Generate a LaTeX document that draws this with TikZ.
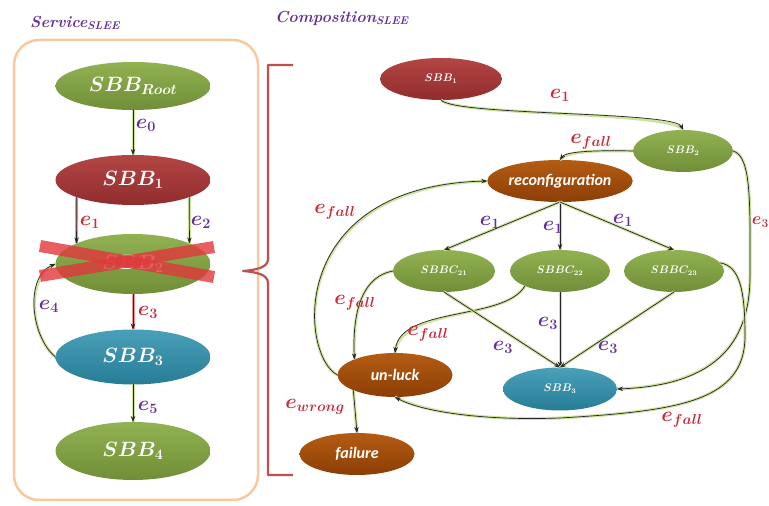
\documentclass[tikz,border=0pt]{standalone}
\usepackage{fontspec}
\newfontfamily\carl{Carlito}
\usetikzlibrary{shapes.geometric,arrows.meta}
\definecolor{gG}{RGB}{112,142,55}
\definecolor{gGl}{RGB}{145,178,82}
\definecolor{rR}{RGB}{145,45,45}
\definecolor{rRl}{RGB}{178,70,68}
\definecolor{bB}{RGB}{40,125,150}
\definecolor{bBl}{RGB}{75,160,185}
\definecolor{oO}{RGB}{140,62,5}
\definecolor{oOl}{RGB}{180,92,20}
\definecolor{boxO}{RGB}{248,200,160}
\definecolor{brk}{RGB}{192,80,80}
\definecolor{glowG}{RGB}{205,225,160}
\definecolor{glowR}{RGB}{235,150,150}
\definecolor{labP}{RGB}{100,50,150}
\definecolor{labR}{RGB}{200,45,60}
\definecolor{xRed}{RGB}{225,55,60}
\tikzset{
  ell/.style={ellipse, draw=none, inner sep=0pt, outer sep=0pt, text=white},
  bigE/.style={ell, minimum width=155pt, font=\boldmath\fontsize{22}{24}\selectfont},
  smE/.style={ell, minimum height=42pt, font=\boldmath\fontsize{10.5}{12}\selectfont},
  txtE/.style={ell, minimum width=115pt, font=\carl\bfseries\itshape\fontsize{16}{18}\selectfont},
  fillG/.style={top color=gGl, bottom color=gG},
  fillR/.style={top color=rRl, bottom color=rR},
  fillB/.style={top color=bBl, bottom color=bB},
  fillO/.style={top color=oOl, bottom color=oO},
  edge/.style={draw=black!85, line width=0.7pt, preaction={draw=glowG, line width=3pt, -}, -{Stealth[length=6pt,width=4.5pt]}},
  edgeR/.style={draw=black!85, line width=0.7pt, preaction={draw=glowR, line width=3pt, -}, -{Stealth[length=6pt,width=4.5pt]}},
  elab/.style={inner sep=1pt, font=\boldmath\fontsize{20}{22}\selectfont},
  elP/.style={elab, text=labP},
  elR/.style={elab, text=labR},
  ttl/.style={anchor=west, inner sep=0pt, text=labP, font=\bfseries\itshape\fontsize{16}{18}\selectfont}
}
\begin{document}
\begin{tikzpicture}[x=1pt,y=1pt]
\useasboundingbox (0,0) rectangle (769,506);
% titles
\node[ttl] (svc) at (30,483) {Service\textsubscript{SLEE}};
\node[ttl] (cmp) at (275,488) {Composition\textsubscript{SLEE}};
% left box
\draw[boxO, line width=2.5pt, rounded corners=25pt] (14,6) rectangle (258,466);
% bracket
\draw[brk, line width=2.2pt, line join=round] (293,441) -- (268,441) -- (268,247)
  .. controls (268,238) and (255,236) .. (243,235)
  .. controls (255,234) and (268,232) .. (268,223) -- (268,31) -- (293,31);
% left nodes
\node[bigE, minimum height=48pt, fillG] (root) at (133,420) {$SBB_{Root}$};
\node[bigE, minimum height=50pt, fillR] (s1) at (133,326) {$SBB_1$};
\node[bigE, minimum height=60pt, fillG] (s2) at (133,242) {$SBB_2$};
\node[bigE, minimum height=55pt, fillB] (s3) at (133,149) {$SBB_3$};
\node[bigE, minimum height=58pt, fillG] (s4) at (133,55) {$SBB_4$};
% left edges
\draw[edge] (root) -- (s1);
\draw[edgeR] (s1.197) -- (s2.160);
\draw[edge] (s1.343) -- (s2.20);
\draw[edgeR] (s2) -- (s3);
\draw[edge] (s3.west) .. controls (30,170) and (25,230) .. (s2.west);
\draw[edge] (s3) -- (s4);
% left labels
\node[elP] (l0) at (146,381) {$e_0$};
\node[elR] (l1) at (90,284) {$e_1$};
\node[elP] (l2) at (201,284) {$e_2$};
\node[elR] (l3) at (148,194) {$e_3$};
\node[elP] (l4) at (49,200) {$e_4$};
\node[elP] (l5) at (148,99) {$e_5$};
% red cross
\draw[xRed, opacity=0.8, line width=12pt] (40,260) -- (214,229);
\draw[xRed, opacity=0.8, line width=12pt] (40,230) -- (214,259);
% right nodes
\node[smE, minimum width=122pt, fillR] (r1) at (441,427) {$SBB_1$};
\node[smE, minimum width=100pt, fillG] (r2) at (683,355) {$SBB_2$};
\node[txtE, minimum width=145pt, minimum height=42pt, fillO] (rec) at (560,325) {reconfiguration};
\node[smE, minimum width=102pt, fillG] (c21) at (444,235) {$SBBC_{21}$};
\node[smE, minimum width=100pt, fillG] (c22) at (560,235) {$SBBC_{22}$};
\node[smE, minimum width=100pt, fillG] (c23) at (674,235) {$SBBC_{23}$};
\node[smE, minimum width=114pt, minimum height=43pt, fillB] (r3) at (560,117) {$SBB_3$};
\node[txtE, minimum height=44pt, fillO] (unl) at (395,131) {un-luck};
\node[txtE, minimum height=42pt, fillO] (fail) at (357,52) {failure};
% right edges
\draw[edge] (r1.south) .. controls (455,390) and (675,395) .. (r2.north);
\draw[edge] (r2.west) .. controls (590,356) and (565,354) .. (rec.north);
\draw[edge] (rec.south) -- (c21.north);
\draw[edge] (rec.south) -- (c22.north);
\draw[edge] (rec.south) -- (c23.north);
\draw[edge] (unl.west) .. controls (300,150) and (285,320) .. (rec.west);
\draw[edge] (c21.west) .. controls (365,230) and (352,200) .. (unl.159);
\draw[edge] (c22.203) .. controls (505,185) and (400,200) .. (unl.north);
\draw[edge] (c21.south) -- (r3.north);
\draw[edge] (c22.south) -- (r3.north);
\draw[edge] (c23.south) -- (r3.north);
\draw[edge] (r2.east) .. controls (752,350) and (750,300) .. (750,230)
  .. controls (750,150) and (700,120) .. (r3.east);
\draw[edge] (c23.10) .. controls (740,240) and (745,215) .. (745,170)
  .. controls (745,105) and (680,95) .. (560,88)
  .. controls (480,85) and (420,95) .. (unl.south);
\draw[edge] (unl.200) -- (fail.north);
% right labels
\node[elR] (lr1) at (560,411) {$e_1$};
\node[elR] (lf1) at (591,364) {$e_{fall}$};
\node[elP] (lc1) at (490,284) {$e_1$};
\node[elP] (lc2) at (553,279) {$e_1$};
\node[elP] (lc3) at (623,286) {$e_1$};
\node[elR] (lf2) at (335,294) {$e_{fall}$};
\node[elR] (lf3) at (355,203) {$e_{fall}$};
\node[elR] (lf4) at (428,172) {$e_{fall}$};
\node[elP] (le1) at (503,159) {$e_3$};
\node[elP] (le2) at (548,183) {$e_3$};
\node[elP] (le3) at (608,159) {$e_3$};
\node[elR, anchor=east, inner sep=0pt, font=\boldmath\fontsize{17}{19}\selectfont] (lr3) at (769,284) {$e_3$};
\node[elR] (lf5) at (682,86) {$e_{fall}$};
\node[elR] (lw) at (315,99) {$e_{wrong}$};
\end{tikzpicture}
\end{document}
